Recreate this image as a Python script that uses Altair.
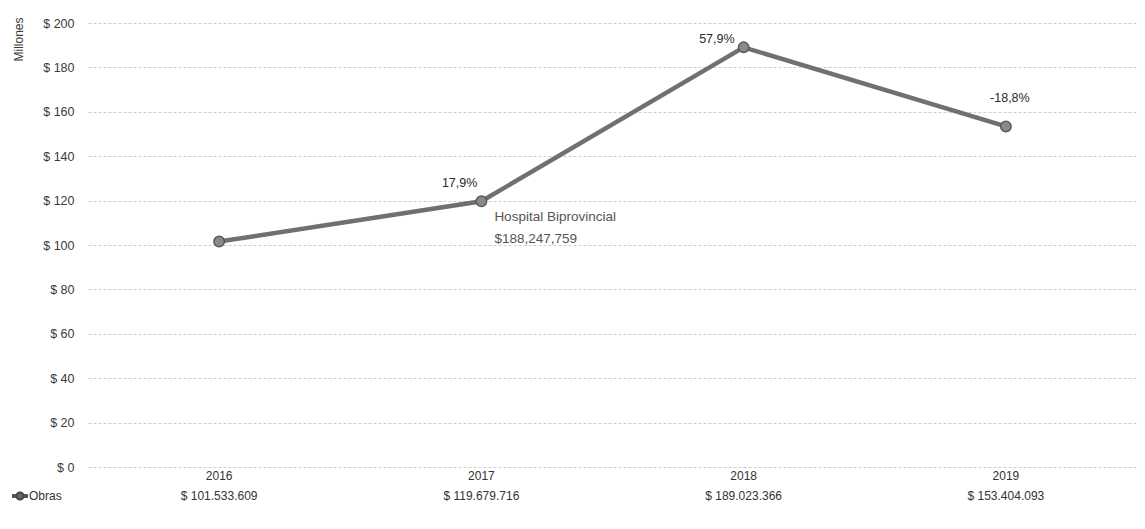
import altair as alt
import pandas as pd

years = ["2016", "2017", "2018", "2019"]
obras_millones = [101.533609, 119.679716, 189.023366, 153.404093]
value_labels = ["$ 101.533.609", "$ 119.679.716", "$ 189.023.366", "$ 153.404.093"]
pct_labels = ["", "17,9%", "57,9%", "-18,8%"]
y_ticks = [0, 20, 40, 60, 80, 100, 120, 140, 160, 180, 200]
note_year = ["2017"]
note_lines = [["Hospital Biprovincial", "$188,247,759"]]
legend_name = ["Obras"]

df = pd.DataFrame({"year": years, "obras": obras_millones,
                   "vlabel": value_labels, "pct": pct_labels})
note_df = pd.DataFrame({"year": note_year,
                        "obras": [obras_millones[years.index(y)] for y in note_year],
                        "txt": note_lines})

FONT = "Liberation Sans"
xenc = alt.X("year:N", sort=years, scale=alt.Scale(type="point", padding=0.5), axis=None)
yscale = alt.Scale(domain=[0, 200], nice=False)

base = alt.Chart(df).encode(x=xenc)

line = base.mark_line(color="#707070", strokeWidth=4.5).encode(
    y=alt.Y("obras:Q", scale=yscale,
            axis=alt.Axis(values=y_ticks, labelExpr="'$ ' + datum.value",
                          grid=True, gridDash=[3, 2], gridColor="#cfcfcf",
                          domain=False, ticks=False, labelPadding=14,
                          labelFontSize=12.5, labelColor="#3a3a3a", labelFont=FONT,
                          title="Millones", titleAngle=270, titleX=-63, titleY=16,
                          titleAlign="center", titleBaseline="bottom",
                          titleFontWeight="normal", titleFontSize=12,
                          titleColor="#3a3a3a", titleFont=FONT))
)

pts = base.mark_point(filled=True, size=110, fill="#8a8a8a", stroke="#5a5a5a",
                      strokeWidth=1.5, opacity=1).encode(y=alt.Y("obras:Q", scale=yscale))

pct_common = dict(font=FONT, fontSize=12.5, color="#2a2a2a")
pct17 = alt.Chart(df[df.year == "2017"]).mark_text(align="right", dx=-4, dy=-18, **pct_common).encode(
    x=xenc, y=alt.Y("obras:Q", scale=yscale), text="pct:N")
pct57 = alt.Chart(df[df.year == "2018"]).mark_text(align="right", dx=-9, dy=-8, **pct_common).encode(
    x=xenc, y=alt.Y("obras:Q", scale=yscale), text="pct:N")
pct18 = alt.Chart(df[df.year == "2019"]).mark_text(align="center", dx=4, dy=-28, **pct_common).encode(
    x=xenc, y=alt.Y("obras:Q", scale=yscale), text="pct:N")

note = alt.Chart(note_df).mark_text(align="left", baseline="top", dx=13, dy=9,
                                    font=FONT, fontSize=13.5, color="#555",
                                    lineHeight=22).encode(
    x=xenc, y=alt.Y("obras:Q", scale=yscale), text="txt")

yr_row = base.mark_text(font=FONT, fontSize=12, color="#333").encode(
    y=alt.value(453), text="year:N")
val_row = base.mark_text(font=FONT, fontSize=12, color="#333").encode(
    y=alt.value(473), text="vlabel:N")

leg_df = pd.DataFrame({"name": legend_name})
leg_line = alt.Chart(leg_df).mark_rule(color="#555", strokeWidth=4).encode(
    x=alt.value(-76), x2=alt.value(-60), y=alt.value(473))
leg_pt = alt.Chart(leg_df).mark_point(filled=True, size=50, fill="#666", stroke="#444",
                                      opacity=1).encode(x=alt.value(-68), y=alt.value(473))
leg_txt = alt.Chart(leg_df).mark_text(align="left", font=FONT, fontSize=12, color="#333").encode(
    x=alt.value(-59), y=alt.value(473), text="name:N")

chart = alt.layer(line, pts, pct17, pct57, pct18, note, yr_row, val_row,
                  leg_line, leg_pt, leg_txt).properties(
    width=1049, height=444,
    autosize=alt.AutoSizeParams(type="none"),
    padding={"left": 80, "top": 15, "right": 0, "bottom": 55},
    background="white",
).configure_view(stroke=None)

chart.save("out.html", embed_options={"renderer": "svg", "actions": False})
